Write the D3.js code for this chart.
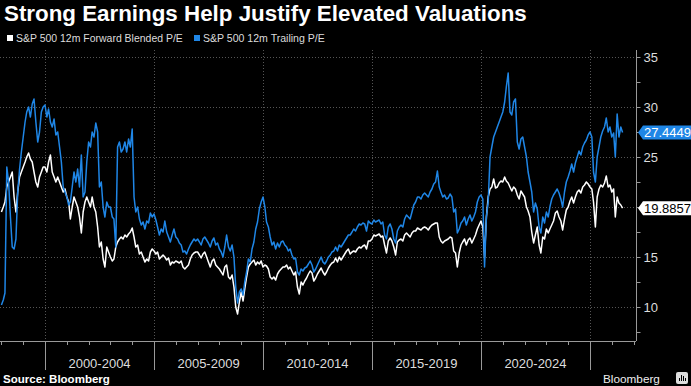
<!DOCTYPE html>
<html>
<head>
<meta charset="utf-8">
<script src="https://cdn.jsdelivr.net/npm/d3@7"></script>
<style>
  html, body { margin: 0; padding: 0; background: #000; }
  svg { display: block; }
</style>
</head>
<body>
<div id="chart"></div>
<script>
// Monthly series, first value is Jan 1998
const startMonth = new Date(1998, 0, 1);

const forwardPE = [
  19.5, 20.0, 20.5, 22.0, 22.5, 23.0, 23.5, 21.0, 19.5, 21.5, 23.0, 23.5,
  24.0, 24.5, 25.0, 25.4, 24.8, 24.5, 23.5, 22.5, 22.0, 23.0, 23.5, 24.0,
  24.0, 23.5, 24.5, 25.2, 23.5, 23.0, 22.5, 23.0, 22.5, 22.0, 21.5, 21.8,
  21.0, 20.5, 18.8, 20.0, 21.0, 20.5, 20.0, 19.0, 17.4, 19.5, 20.5, 21.0,
  20.5, 20.0, 21.0, 20.0, 19.5, 18.0, 16.0, 16.5, 14.8, 14.0, 16.0, 15.5,
  15.0, 14.6, 14.8, 16.0, 16.5, 16.8, 17.0, 16.8, 17.2, 17.0, 17.3, 17.5,
  17.9, 17.0, 16.0, 16.2, 15.3, 15.5, 15.0, 14.5, 14.8, 14.6, 15.5, 15.8,
  15.6, 15.3, 15.5, 14.8, 15.0, 15.2, 15.0, 14.7, 14.9, 14.2, 14.5, 14.4,
  14.6, 14.5, 14.4, 14.6, 14.0, 13.8, 14.0, 14.2, 14.8, 15.2, 15.4, 15.5,
  15.5, 15.2, 14.9, 15.3, 15.5, 15.0, 14.5, 14.0, 14.6, 14.8, 14.2, 14.0,
  13.8, 13.5, 13.2, 14.0, 14.2, 13.0, 12.8, 13.2, 12.0, 10.0, 9.3, 10.5,
  11.5, 10.6, 11.8, 13.0, 14.0, 14.3, 14.5, 14.7, 14.2, 14.5, 14.3, 14.6,
  14.0, 14.2, 14.1, 13.8, 13.0, 12.8, 13.0, 12.7, 13.3, 13.6, 13.8, 14.0,
  14.0, 14.2, 13.8, 14.0, 13.6, 13.2, 13.5, 12.0, 11.3, 12.5, 12.2, 12.6,
  12.9, 13.3, 13.6, 13.4, 12.6, 12.9, 13.3, 13.6, 13.9, 13.5, 13.2, 13.5,
  13.9, 14.2, 14.4, 14.5, 14.9, 14.5, 15.0, 14.7, 15.0, 15.3, 15.6, 15.8,
  15.3, 15.5, 15.6, 15.5, 15.8, 16.0, 15.9, 16.1, 16.2, 15.8, 16.6, 16.6,
  16.8, 17.2, 17.1, 17.2, 17.3, 17.0, 17.1, 16.2, 15.4, 16.6, 16.9, 16.6,
  16.0, 15.2, 16.5, 16.7, 16.8, 16.6, 17.2, 17.4, 17.2, 17.0, 17.4, 17.6,
  17.6, 17.9, 17.8, 17.7, 17.9, 18.0, 17.9, 17.7, 18.0, 18.2, 18.3, 18.4,
  18.4, 17.0, 16.6, 16.4, 16.6, 16.7, 16.8, 17.0, 16.9, 15.6, 15.4, 14.0,
  15.4, 16.2, 16.5, 16.8, 16.2, 16.7, 16.9, 16.4, 16.8, 17.2, 17.8, 18.2,
  18.6, 18.0, 15.0, 19.0, 21.0, 21.8, 22.0, 22.8, 21.9, 22.0, 22.4, 22.6,
  22.5, 23.0, 22.6, 22.4, 22.0, 21.6, 22.0, 21.8, 21.2, 20.8, 21.6, 21.3,
  21.0, 20.0, 19.6, 19.0, 17.5, 16.4, 17.2, 18.0, 16.2, 15.4, 17.0, 16.8,
  17.8, 17.4, 17.8, 18.2, 18.6, 19.4, 19.6, 19.0, 18.6, 17.7, 18.8, 19.7,
  20.0, 20.6, 21.0, 20.4, 21.0, 21.5, 21.7, 21.4, 22.0, 22.2, 22.5, 22.3,
  22.0, 21.8, 20.5, 18.0, 21.0, 21.8, 22.2, 22.0, 22.4, 23.1, 22.0, 22.2,
  21.5, 21.8, 19.0, 21.0, 20.4, 20.2, 19.8857
];

const trailingPE = [
  10.2, 10.7, 11.4, 24.0, 22.5, 19.0, 16.0, 15.8, 16.8, 21.5, 23.8, 25.5,
  27.0, 28.5, 29.5, 30.0, 29.0, 30.3, 30.8, 28.5, 26.5, 27.5, 29.5, 30.0,
  30.2, 29.0, 29.8, 28.5, 28.0, 28.8, 27.2, 27.5, 26.0, 24.5, 22.0, 21.5,
  21.0, 20.2, 20.5, 22.0, 23.5, 22.5, 23.8, 22.0, 25.2, 21.0, 21.5, 24.5,
  26.5, 26.0, 27.5, 27.0, 28.4, 27.5, 22.0, 22.5, 20.0, 19.0, 20.5, 20.0,
  20.0, 19.0, 18.8, 16.0, 26.0, 26.5, 25.5, 25.8, 26.5, 25.5, 26.8, 26.0,
  27.8, 21.0, 19.5, 20.0, 18.8, 18.2, 18.5, 17.8, 18.6, 18.4, 19.4, 19.0,
  19.3, 18.7, 18.0, 17.2, 17.8, 17.5, 18.6, 17.5, 17.0, 16.5, 17.2, 17.8,
  17.0, 16.8, 16.4, 16.2, 15.5, 15.6, 15.3, 15.8, 16.2, 16.5, 16.8, 16.6,
  16.8, 16.5, 16.2, 16.8, 17.0, 16.7, 16.4, 16.0, 16.6, 16.9, 16.2, 16.4,
  15.8, 15.5, 15.0, 16.0, 17.2, 16.0, 15.6, 16.2, 15.0, 12.0, 10.4, 11.5,
  11.8, 11.2, 12.5, 13.5, 14.8, 14.5, 15.8, 16.5, 17.8, 18.5, 19.8, 20.5,
  21.0, 20.0, 18.5, 18.0, 17.0, 16.2, 16.5, 15.8, 16.4, 16.0, 16.5, 16.6,
  16.2, 16.0, 15.6, 15.8, 15.2, 14.8, 14.9, 13.5, 13.2, 13.8, 13.6, 13.9,
  14.0, 14.3, 14.6, 14.2, 13.5, 13.8, 14.2, 14.6, 15.0, 14.5, 14.3, 14.6,
  15.0, 15.2, 15.5, 15.6, 16.0, 15.6, 16.2, 16.0, 16.3, 16.6, 16.9, 17.2,
  17.2, 17.5, 17.8, 17.6, 18.0, 18.3, 18.2, 18.4, 18.3, 17.6, 18.6, 18.4,
  18.3, 18.7, 18.5, 18.6, 18.7, 18.3, 18.5, 17.2, 16.8, 18.0, 18.3, 17.8,
  16.8, 16.4, 17.6, 18.0, 18.2, 18.0, 18.8, 19.2, 19.0, 18.8, 19.5, 20.2,
  20.5, 21.0, 21.0, 20.8, 21.2, 21.4, 21.2, 21.0, 21.5, 21.8, 22.3, 22.5,
  23.6, 22.0, 21.5, 21.0, 21.2, 20.8, 20.9, 21.3, 21.0, 19.5, 19.8, 17.4,
  17.8, 18.4, 18.6, 19.0, 18.2, 18.8, 19.2, 18.6, 19.0, 19.5, 20.5, 21.0,
  21.2, 20.8, 14.0, 19.0, 20.5, 25.0, 26.0, 27.0, 27.5, 28.0, 28.5, 29.0,
  29.5, 30.5, 32.0, 33.4, 29.5, 29.2, 30.5, 30.8, 26.5, 25.8, 26.8, 27.0,
  26.0, 25.0, 23.5, 22.5, 21.5, 19.5, 20.4, 19.8, 18.0, 17.4, 19.0, 18.4,
  19.5, 19.0, 20.0, 20.8, 21.2, 21.5, 21.8, 21.4, 20.8, 20.0, 21.5, 22.5,
  23.0, 23.6, 24.3, 23.5, 24.4, 25.0, 25.6, 25.2, 26.0, 26.4, 26.7, 27.2,
  27.5, 27.0, 23.5, 22.5, 25.0, 26.0, 27.0, 27.6, 28.0, 28.9, 27.5, 28.0,
  27.0, 27.4, 25.0, 29.3, 27.0, 28.0, 27.4449
];

const seriesNames = ["S&P 500 12m Forward Blended P/E", "S&P 500 12m Trailing P/E"];
const seriesColors = ["#ffffff", "#1f86e6"];
const periodYears = [2000, 2005, 2010, 2015, 2020, 2025];
const periodLabels = ["2000-2004", "2005-2009", "2010-2014", "2015-2019", "2020-2024"];
const yTicks = [10, 15, 20, 25, 30, 35];

const W = 691, H = 386;
const plot = { left: 0, right: 636, top: 50, bottom: 341 };
const sans = "'Liberation Sans', Arial, sans-serif";

const svg = d3.select("#chart").append("svg")
  .attr("width", W)
  .attr("height", H)
  .style("background", "#000");

// shrink/grow a text's font so it spans the given width
function fitText(sel, size, width) {
  sel.style("font-size", size + "px");
  const len = sel.node().getComputedTextLength();
  sel.style("font-size", (size * width / len) + "px");
  return sel;
}

// scales - x extrapolates past the domain on both sides
const x = d3.scaleTime()
  .domain([new Date(2000, 0, 1), new Date(2025, 0, 1)])
  .range([45, 590]);

const y = d3.scaleLinear()
  .domain([10, 35])
  .range([307, 57]);

// title
const title = svg.append("text")
  .attr("x", 4)
  .attr("y", 21)
  .attr("fill", "#fff")
  .style("font-family", sans)
  .style("font-weight", "bold")
  .text("Strong Earnings Help Justify Elevated Valuations");
fitText(title, 18, 523);

// legend
const legendX = [7, 194];
const legendW = [167, 122];
seriesNames.forEach((name, i) => {
  svg.append("rect")
    .attr("x", legendX[i])
    .attr("y", 35)
    .attr("width", 6)
    .attr("height", 6)
    .attr("fill", seriesColors[i]);
  const t = svg.append("text")
    .attr("x", legendX[i] + 9)
    .attr("y", 42)
    .attr("fill", "#ddd")
    .style("font-family", sans)
    .text(name);
  fitText(t, 11, legendW[i]);
});

// gridlines
const grid = svg.append("g");
grid.selectAll("line.h")
  .data(yTicks)
  .enter().append("line")
    .attr("x1", plot.left)
    .attr("x2", plot.right)
    .attr("y1", d => y(d) + 0.5)
    .attr("y2", d => y(d) + 0.5)
    .attr("stroke", "#555")
    .attr("stroke-dasharray", "1,2");

grid.selectAll("line.v")
  .data(periodYears)
  .enter().append("line")
    .attr("x1", d => Math.round(x(new Date(d, 0, 1))) + 0.5)
    .attr("x2", d => Math.round(x(new Date(d, 0, 1))) + 0.5)
    .attr("y1", plot.top)
    .attr("y2", plot.bottom)
    .attr("stroke", "#555")
    .attr("stroke-dasharray", "1,2");

// lines
const dates = forwardPE.map((d, i) => d3.timeMonth.offset(startMonth, i));
const line = d3.line()
  .x((d, i) => x(dates[i]))
  .y(d => y(d));

[forwardPE, trailingPE].forEach((vals, i) => {
  svg.append("path")
    .datum(vals)
    .attr("d", line)
    .attr("fill", "none")
    .attr("stroke", seriesColors[i])
    .attr("stroke-width", 1.5)
    .attr("stroke-linejoin", "round");
});

// bottom axis line + yearly ticks
svg.append("line")
  .attr("x1", plot.left)
  .attr("x2", plot.right)
  .attr("y1", plot.bottom + 0.5)
  .attr("y2", plot.bottom + 0.5)
  .attr("stroke", "#999");

const years = d3.timeYear.range(new Date(1998, 0, 1), new Date(2028, 0, 1))
  .filter(d => x(d) <= plot.right);
svg.append("g").selectAll("line")
  .data(years)
  .enter().append("line")
    .attr("x1", d => Math.round(x(d)) + 0.5)
    .attr("x2", d => Math.round(x(d)) + 0.5)
    .attr("y1", plot.bottom)
    .attr("y2", d => periodYears.includes(d.getFullYear()) ? 370 : plot.bottom + 4)
    .attr("stroke", "#999");

// period labels centred between the 5-year lines
svg.append("g").selectAll("text")
  .data(periodLabels)
  .enter().append("text")
    .attr("x", (d, i) => (x(new Date(periodYears[i], 0, 1)) + x(new Date(periodYears[i] + 5, 0, 1))) / 2)
    .attr("y", 368)
    .attr("text-anchor", "middle")
    .attr("fill", "#ddd")
    .style("font-family", sans)
    .style("font-size", "13px")
    .text(d => d);

// last value tags (they cover the tick label behind them)
const lastVals = [forwardPE[forwardPE.length - 1], trailingPE[trailingPE.length - 1]];
const hidden = yTicks.filter(t => lastVals.some(v => Math.abs(y(t) - y(v)) < 12));

// right axis
const yAxis = svg.append("g")
  .attr("transform", `translate(${plot.right + 0.5},0)`)
  .call(d3.axisRight(y)
    .tickValues(d3.range(7.5, 35.1, 2.5))
    .tickSize(4)
    .tickFormat(d => yTicks.includes(d) && !hidden.includes(d) ? d : ""));
yAxis.select(".domain")
  .attr("d", `M0,${plot.top}V${plot.bottom}`)
  .attr("stroke", "#999");
yAxis.selectAll(".tick line").attr("stroke", "#999");
yAxis.selectAll(".tick text")
  .attr("x", 7)
  .attr("fill", "#ddd")
  .style("font-family", sans)
  .style("font-size", "13px");

const tagFill = ["#ffffff", "#1f86e6"];
const tagText = ["#000000", "#ffffff"];
lastVals.forEach((v, i) => {
  const ty = y(v);
  svg.append("path")
    .attr("d", `M638,${ty} L643,${ty - 7} H691 V${ty + 7} H643 Z`)
    .attr("fill", tagFill[i]);
  svg.append("text")
    .attr("x", 644)
    .attr("y", ty + 4.5)
    .attr("fill", tagText[i])
    .style("font-family", sans)
    .style("font-size", "13px")
    .text(d3.format(".4f")(v));
});

// footer
const src = svg.append("text")
  .attr("x", 3)
  .attr("y", 383)
  .attr("fill", "#fff")
  .style("font-family", sans)
  .style("font-weight", "bold")
  .text("Source: Bloomberg");
fitText(src, 10.5, 107);

const brand = svg.append("text")
  .attr("x", 603)
  .attr("y", 383)
  .attr("fill", "#eee")
  .style("font-family", sans)
  .text("Bloomberg");
fitText(brand, 13, 57);

const logo = svg.append("g").attr("transform", "translate(676,372)");
logo.append("rect")
  .attr("width", 12).attr("height", 12).attr("rx", 2)
  .attr("fill", "#ddd");
[[3, 6, 3], [5, 3, 6], [7, 4, 5], [9, 6, 3]].forEach(b => {
  logo.append("rect")
    .attr("x", b[0]).attr("y", b[1])
    .attr("width", 1).attr("height", b[2])
    .attr("fill", "#000");
});
</script>
</body>
</html>
